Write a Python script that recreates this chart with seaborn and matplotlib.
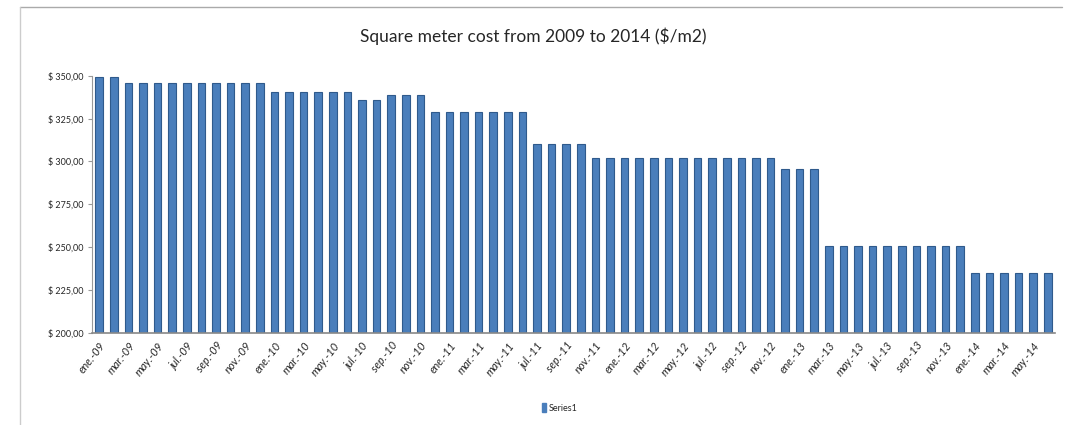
import numpy as np
import pandas as pd
import matplotlib.pyplot as plt
import matplotlib.lines as mlines
import seaborn as sns

# month labels (Spanish abbreviations) and years
months = ['ene.', 'feb.', 'mar.', 'abr.', 'may.', 'jun.',
          'jul.', 'ago.', 'sep.', 'oct.', 'nov.', 'dic.']
years = ['09', '10', '11', '12', '13', '14']

# cost per square meter, ene-09 .. jun-14
cost = [349, 349,
        346, 346, 346, 346, 346, 346, 346, 346, 346, 346,
        340.5, 340.5, 340.5, 340.5, 340.5, 340.5,
        336, 336,
        339, 339, 339,
        329, 329, 329, 329, 329, 329, 329,
        310, 310, 310, 310,
        302, 302, 302, 302, 302, 302, 302, 302, 302, 302, 302, 302, 302,
        295.5, 295.5, 295.5,
        251, 251, 251, 251, 251, 251, 251, 251, 251, 251,
        235, 235, 235, 235, 235, 235]

labels = [f'{m}-{y}' for y in years for m in months][:len(cost)]
df = pd.DataFrame({'month': labels, 'cost': cost})

sns.set_style('white')
plt.rcParams['font.family'] = ['Lato', 'DejaVu Sans']

fig = plt.figure(figsize=(10.66, 4.25), dpi=100)
ax = fig.add_axes([0.0863, 0.2165, 0.9034, 0.6054])

sns.barplot(data=df, x='month', y='cost', color='#4a7ebb', width=0.52,
            edgecolor='#2f5a8c', linewidth=0.8, saturation=1, ax=ax)

ax.set_ylim(200, 350)
ax.set_xlim(-0.5, len(cost) - 0.5)
yt = np.arange(200, 351, 25)
ax.set_yticks(yt)
ax.set_yticklabels([f'$ {v:.2f}'.replace('.', ',') for v in yt], fontsize=6.5)

pos = np.arange(0, len(cost), 2)
ax.set_xticks(pos)
ax.set_xticklabels([labels[i] for i in pos], rotation=52, ha='right',
                   rotation_mode='anchor', fontsize=8, style='italic')
ax.set_xticks(np.arange(-0.5, len(cost), 2), minor=True)
ax.tick_params(axis='x', which='major', length=0, pad=5)
ax.tick_params(axis='x', which='minor', length=3, color='#999999')
ax.tick_params(axis='y', length=3, color='#999999', pad=3, left=True)

for s in ['top', 'right']:
    ax.spines[s].set_visible(False)
ax.spines['left'].set_color('#999999')
ax.spines['bottom'].set_color('#888888')
ax.spines['bottom'].set_linewidth(1.2)
ax.set_xlabel('')
ax.set_ylabel('')

fig.suptitle('Square meter cost from 2009 to 2014 ($/m2)', y=0.935, fontsize=12.5)

# legend
handle = plt.Rectangle((0, 0), 1, 1, color='#4a7ebb')
fig.legend([handle], ['Series1'], loc='center', bbox_to_anchor=(0.525, 0.04),
           frameon=False, fontsize=6.5, handlelength=0.5, handleheight=1.0,
           handletextpad=0.3)

# outer chart frame
fig.add_artist(mlines.Line2D([20 / 1066, 1062 / 1066], [1 - 7 / 425, 1 - 7 / 425],
                             color='#aaaaaa', lw=1))
fig.add_artist(mlines.Line2D([20 / 1066, 20 / 1066], [0, 1 - 7 / 425],
                             color='#cccccc', lw=1))

fig.savefig('out.png', dpi=100)
